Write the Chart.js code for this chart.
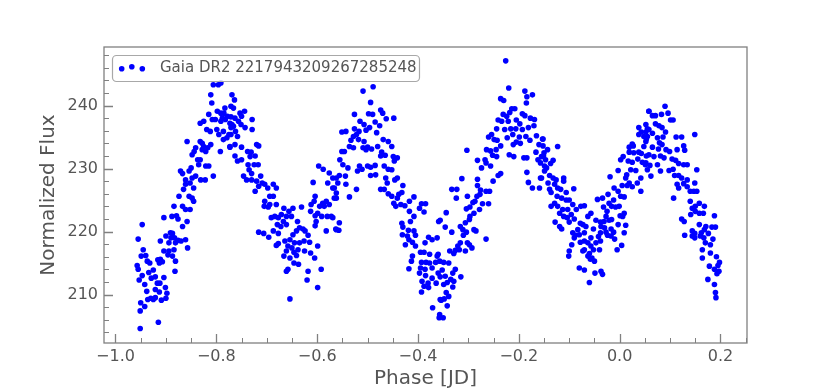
<!DOCTYPE html>
<html>
<head>
<meta charset="utf-8">
<script src="https://cdn.jsdelivr.net/npm/chart.js@4/dist/chart.umd.min.js"></script>
<style>
  html, body { margin: 0; padding: 0; background: #fff; }
  canvas { display: block; }
</style>
</head>
<body>
<canvas id="lc" width="830" height="392"></canvas>
<script>
// light curve, [phase, normalized flux]
const seriesLabel = 'Gaia DR2 2217943209267285248';

const riseA = [
  [-0.951,204.6],[-0.915,205.6],[-0.947,221.1],[-0.955,218.8],[-0.957,214.6],[-0.955,214.0],[-0.949,216.1],[-0.945,217.1],[-0.940,216.2],[-0.937,215.3],
  [-0.932,215.0],[-0.947,213.0],[-0.953,212.3],[-0.942,211.6],[-0.934,213.5],[-0.929,212.6],[-0.921,212.8],[-0.917,211.8],[-0.925,213.9],[-0.950,208.7],
  [-0.942,208.1],[-0.951,207.4],[-0.936,209.2],[-0.930,209.4],[-0.925,209.2],[-0.921,209.5],[-0.909,209.1],[-0.900,209.4],[-0.912,211.8],[-0.904,212.7],
  [-0.901,211.1],[-0.898,210.2],[-0.938,210.5],[-0.921,210.8],[-0.913,210.4],[-0.916,215.5],[-0.911,215.6],[-0.907,215.2],[-0.913,215.0],[-0.904,216.9],
  [-0.896,216.3],[-0.894,216.9],[-0.894,218.2],[-0.890,219.0],[-0.887,219.7],[-0.883,219.0],[-0.881,218.2],[-0.876,218.6],[-0.870,218.5],[-0.861,218.7],
  [-0.857,217.4],[-0.911,218.5],[-0.900,219.3],[-0.891,219.8],[-0.884,217.1],[-0.887,216.1],[-0.881,215.3],[-0.882,213.7],[-0.904,222.2],[-0.888,222.4],
  [-0.879,222.5],[-0.876,222.0],[-0.867,220.8],[-0.858,221.6],[-0.884,224.0],[-0.867,224.0],[-0.861,223.5],[-0.852,223.5],[-0.874,225.6],[-0.865,226.7],
  [-0.861,227.5],[-0.854,225.6],[-0.848,225.3],[-0.845,226.9],[-0.845,224.8],[-0.871,229.6],[-0.867,229.2],[-0.861,228.2],[-0.852,227.7],[-0.848,228.5],
  [-0.841,228.8],[-0.831,228.2],[-0.822,228.2],[-0.806,228.8],[-0.854,229.6],[-0.850,230.1],[-0.835,230.6],[-0.832,231.4],[-0.821,230.4],[-0.815,230.4],
  [-0.848,232.2],[-0.844,232.7],[-0.841,233.3],[-0.828,233.0],[-0.825,233.5],[-0.821,232.7],[-0.837,231.4],[-0.817,233.3],[-0.811,233.8],[-0.792,232.7],
  [-0.858,234.3],[-0.832,234.3],[-0.828,234.0],[-0.832,237.2],[-0.825,237.5],[-0.819,236.2],[-0.812,235.9],[-0.815,238.6],[-0.808,237.8],[-0.802,237.8],
  [-0.809,240.4],[-0.811,241.7],[-0.806,243.3],[-0.796,243.3],[-0.791,243.6],[-0.798,239.1],[-0.791,238.8],[-0.785,238.8],[-0.783,239.6],[-0.791,237.5],
  [-0.788,238.0],[-0.782,237.8],[-0.778,238.3],[-0.771,238.2],[-0.799,236.2],[-0.795,235.4],[-0.786,235.9],[-0.779,234.9],[-0.775,235.4],[-0.771,236.5],
  [-0.769,237.0],[-0.773,233.4],[-0.786,234.6]
];

const fallA = [
  [-0.769,241.7],[-0.764,240.9],[-0.771,239.9],[-0.766,239.6],[-0.753,238.8],[-0.744,239.1],[-0.750,238.3],[-0.763,238.0],[-0.729,237.8],[-0.756,237.5],
  [-0.773,237.2],[-0.751,237.0],[-0.766,236.7],[-0.743,236.5],[-0.729,236.2],[-0.762,235.9],[-0.771,235.4],[-0.758,235.1],[-0.773,233.5],[-0.763,233.8],
  [-0.750,233.4],[-0.720,233.8],[-0.716,233.6],[-0.738,232.7],[-0.731,232.6],[-0.723,232.0],[-0.763,232.0],[-0.758,231.2],[-0.750,231.4],[-0.733,231.9],
  [-0.737,230.6],[-0.725,230.6],[-0.717,230.6],[-0.735,229.8],[-0.730,229.2],[-0.746,228.8],[-0.740,228.2],[-0.730,228.2],[-0.720,228.0],[-0.712,228.8],
  [-0.709,227.7],[-0.716,227.2],[-0.704,227.5],[-0.723,226.4],[-0.698,226.9],[-0.687,227.5],[-0.681,226.9],[-0.694,225.6],[-0.687,225.6],[-0.704,224.8],
  [-0.705,224.0],[-0.697,223.9],[-0.694,224.3],[-0.681,224.3],[-0.691,222.2],[-0.684,222.4],[-0.677,222.2],[-0.666,223.7],[-0.656,223.2],[-0.648,223.7],
  [-0.631,223.9],[-0.671,222.7],[-0.661,222.4],[-0.651,222.4],[-0.679,221.1],[-0.672,220.8],[-0.667,221.6],[-0.661,221.1],[-0.677,219.7],[-0.687,220.1],
  [-0.716,219.9],[-0.706,219.7],[-0.696,219.1],[-0.639,221.6],[-0.635,220.6],[-0.641,220.1],[-0.648,219.5],[-0.628,220.4],[-0.624,220.1],[-0.618,219.4],
  [-0.654,218.7],[-0.664,218.5],[-0.677,218.1],[-0.681,217.8],[-0.645,218.2],[-0.635,218.2],[-0.626,218.5],[-0.615,218.3],[-0.658,217.7],[-0.650,217.4],
  [-0.638,217.1],[-0.625,216.9],[-0.661,216.9],[-0.646,216.7],[-0.599,217.7],[-0.613,216.6],[-0.605,215.8],[-0.666,216.1],[-0.654,215.8],[-0.641,216.2],
  [-0.637,214.8],[-0.646,215.0],[-0.658,214.0],[-0.661,213.7],[-0.618,213.7],[-0.620,212.3],[-0.592,214.0],[-0.599,211.1],[-0.654,209.3],[-0.612,224.3],
  [-0.606,224.8],[-0.613,223.2],[-0.604,222.5],[-0.599,222.9],[-0.602,221.6],[-0.604,220.9],[-0.595,224.0],[-0.589,224.5],[-0.582,224.8],[-0.586,224.0],
  [-0.576,224.3],[-0.591,222.4],[-0.580,222.4],[-0.572,222.4],[-0.582,220.1],[-0.562,220.3],[-0.608,227.8],[-0.604,225.6],[-0.597,230.4],[-0.588,229.9],
  [-0.576,229.3],[-0.579,227.7],[-0.569,226.9],[-0.562,226.1],[-0.566,225.3],[-0.562,228.5]
];

const peakB = [
  [-0.509,242.3],[-0.489,243.0],[-0.494,240.5],[-0.526,238.6],[-0.498,238.7],[-0.490,238.6],[-0.474,239.3],[-0.470,238.8],[-0.448,238.0],[-0.463,237.9],
  [-0.515,237.5],[-0.507,237.0],[-0.485,237.4],[-0.496,236.5],[-0.551,235.8],[-0.543,235.9],[-0.526,236.3],[-0.517,235.9],[-0.503,236.1],[-0.482,235.7],
  [-0.476,236.8],[-0.528,235.1],[-0.522,235.4],[-0.533,234.5],[-0.518,234.6],[-0.507,234.3],[-0.469,234.6],[-0.459,234.3],[-0.536,233.5],[-0.528,233.3],
  [-0.509,233.3],[-0.500,233.4],[-0.492,233.1],[-0.480,233.5],[-0.452,233.5],[-0.551,232.7],[-0.546,232.7],[-0.472,232.6],[-0.555,231.4],[-0.503,233.0],
  [-0.474,232.0],[-0.465,232.1],[-0.449,231.9],[-0.441,231.7],[-0.447,231.2],[-0.549,230.6],[-0.539,230.1],[-0.516,230.4],[-0.511,229.9],[-0.500,230.4],
  [-0.494,230.2],[-0.485,230.5],[-0.467,230.4],[-0.459,229.9],[-0.452,229.8],[-0.520,229.6],[-0.556,228.9],[-0.544,228.8],[-0.494,228.9],[-0.484,229.0],
  [-0.464,228.5],[-0.446,228.2],[-0.441,228.5],[-0.569,228.5],[-0.559,227.7],[-0.543,227.5],[-0.566,226.9],[-0.461,227.7],[-0.522,226.7],[-0.474,226.7],
  [-0.467,226.7],[-0.430,227.3],[-0.459,226.0],[-0.438,225.9],[-0.432,226.2],[-0.452,225.6],[-0.536,225.5],[-0.562,225.3],[-0.441,225.3],[-0.408,225.5],
  [-0.448,224.5],[-0.434,224.3],[-0.426,224.1],[-0.444,224.0],[-0.417,224.8],[-0.393,224.4],[-0.385,224.4],[-0.397,223.7],[-0.417,223.2],[-0.408,222.4],
  [-0.388,223.1],[-0.556,221.4],[-0.563,220.4],[-0.557,220.2],[-0.569,222.2],[-0.415,221.6],[-0.432,221.3],[-0.430,220.7],[-0.419,220.2],[-0.408,220.1],
  [-0.431,219.5],[-0.421,219.3],[-0.405,219.4],[-0.379,219.1],[-0.372,218.7],[-0.359,221.6],[-0.418,218.7],[-0.411,218.3],[-0.425,217.9],[-0.386,218.2],
  [-0.405,217.7],[-0.395,216.7],[-0.388,216.7],[-0.377,216.4],[-0.360,216.4],[-0.411,216.1],[-0.413,215.3],[-0.393,215.1],[-0.384,215.1],[-0.377,215.0],
  [-0.365,215.1],[-0.395,214.2],[-0.418,214.1],[-0.386,214.0],[-0.372,214.2],[-0.360,213.4],[-0.397,213.4],[-0.385,213.0],[-0.392,212.1],[-0.380,211.8],
  [-0.372,212.6],[-0.364,211.8],[-0.356,212.8],[-0.388,211.3],[-0.379,211.1],[-0.393,210.4],[-0.356,209.2],[-0.371,207.9],[-0.358,206.3]
];

const riseC = [
  [-0.226,247.1],[-0.220,242.8],[-0.236,241.1],[-0.230,240.8],[-0.188,242.3],[-0.173,241.7],[-0.184,241.4],[-0.185,240.4],[-0.214,239.5],[-0.208,239.5],
  [-0.218,238.9],[-0.231,238.6],[-0.224,238.3],[-0.193,238.7],[-0.188,238.4],[-0.241,237.7],[-0.234,237.5],[-0.221,237.5],[-0.205,237.7],[-0.177,238.0],
  [-0.169,237.8],[-0.198,237.1],[-0.244,236.3],[-0.228,236.2],[-0.216,236.3],[-0.206,236.3],[-0.193,236.2],[-0.181,236.5],[-0.170,236.8],[-0.254,235.4],
  [-0.260,235.0],[-0.212,235.4],[-0.199,235.0],[-0.186,235.1],[-0.165,235.2],[-0.153,234.7],[-0.249,234.6],[-0.243,234.5],[-0.223,234.9],[-0.205,234.2],
  [-0.197,234.0],[-0.178,234.5],[-0.160,233.8],[-0.264,233.0],[-0.256,232.8],[-0.245,233.0],[-0.236,233.6],[-0.211,233.8],[-0.303,232.9],[-0.252,232.1],
  [-0.244,231.9],[-0.219,232.2],[-0.210,231.9],[-0.190,231.7],[-0.184,231.7],[-0.166,232.6],[-0.162,231.4],[-0.151,232.0],[-0.282,231.3],[-0.265,230.9],
  [-0.256,230.4],[-0.274,230.1],[-0.149,230.4],[-0.157,230.9],[-0.236,229.2],[-0.241,228.9],[-0.184,229.4],[-0.157,228.5],[-0.313,228.4],[-0.282,228.3],
  [-0.251,228.0],[-0.181,227.8],[-0.173,226.9],[-0.159,226.9],[-0.282,227.3],[-0.276,226.6],[-0.333,226.7],[-0.323,226.7],[-0.265,226.4],[-0.258,226.4],
  [-0.277,225.9],[-0.283,225.6],[-0.302,225.6],[-0.324,225.3],[-0.287,224.8],[-0.291,224.6],[-0.272,224.4],[-0.260,224.4],[-0.297,223.9],[-0.304,223.6],
  [-0.344,223.0],[-0.278,223.5],[-0.289,222.9],[-0.297,222.4],[-0.356,221.8],[-0.298,221.9],[-0.306,221.4],[-0.346,220.7],[-0.316,220.8],[-0.311,220.3],
  [-0.289,220.3],[-0.285,220.1],[-0.333,219.9],[-0.304,219.9],[-0.310,219.4],[-0.362,219.0],[-0.265,218.8],[-0.316,218.2],[-0.302,218.2],[-0.298,217.9],
  [-0.321,217.7],[-0.293,217.4],[-0.326,217.0],[-0.337,216.9],[-0.318,217.1],[-0.329,216.5],[-0.306,216.9],[-0.362,216.1],[-0.357,215.3],[-0.349,215.1],
  [-0.339,215.0],[-0.352,213.9],[-0.326,214.0],[-0.331,213.4],[-0.346,212.9],[-0.315,212.8],[-0.335,212.4],[-0.329,212.1],[-0.342,211.9],[-0.349,211.6],
  [-0.331,211.2],[-0.344,210.3],[-0.339,209.7],[-0.348,209.3],[-0.354,209.1],[-0.342,208.2],[-0.357,206.8],[-0.350,206.3],[-0.267,231.4]
];

const dipD = [
  [-0.152,234.7],[-0.152,233.6],[-0.143,233.0],[-0.123,233.5],[-0.150,232.5],[-0.155,231.9],[-0.147,231.4],[-0.132,231.3],[-0.137,230.8],[-0.145,230.1],
  [-0.149,229.6],[-0.155,228.5],[-0.139,228.9],[-0.132,228.5],[-0.142,227.7],[-0.126,228.2],[-0.111,228.5],[-0.111,228.0],[-0.129,227.5],[-0.139,226.7],
  [-0.136,226.2],[-0.123,226.9],[-0.117,226.7],[-0.091,226.8],[-0.106,226.2],[-0.124,225.6],[-0.115,225.3],[-0.106,225.0],[-0.100,225.0],[-0.129,224.5],
  [-0.136,224.0],[-0.123,224.0],[-0.093,224.3],[-0.077,224.0],[-0.070,224.1],[-0.113,223.5],[-0.103,223.5],[-0.086,223.5],[-0.119,222.9],[-0.096,222.7],
  [-0.057,222.9],[-0.063,222.4],[-0.111,222.4],[-0.104,222.2],[-0.090,222.0],[-0.044,225.1],[-0.034,225.3],[-0.128,221.5],[-0.119,220.8],[-0.115,220.4],
  [-0.100,221.5],[-0.078,221.3],[-0.073,221.1],[-0.067,220.8],[-0.047,221.8],[-0.038,221.5],[-0.031,221.6],[-0.027,222.4],[-0.021,221.8],[-0.016,221.9],
  [-0.083,220.3],[-0.052,220.4],[-0.037,220.8],[-0.030,220.6],[-0.017,220.4],[-0.093,219.8],[-0.088,219.4],[-0.070,219.8],[-0.038,219.8],[-0.027,219.9],
  [-0.024,219.4],[-0.012,219.9],[-0.003,221.1],[0.012,221.0],[0.009,219.8],[-0.090,219.0],[-0.057,219.0],[-0.042,219.2],[-0.017,219.3],[-0.070,218.5],
  [-0.063,218.2],[-0.047,218.2],[-0.038,218.5],[-0.010,218.8],[-0.095,217.9],[-0.078,218.3],[-0.057,217.7],[0.004,217.8],[-0.052,217.1],[-0.073,216.9],
  [-0.100,216.9],[-0.005,217.1],[-0.060,216.5],[-0.040,217.1],[-0.101,216.1],[-0.063,216.1],[-0.055,215.8],[-0.050,215.3],[-0.058,215.6],[-0.080,214.2],
  [-0.070,213.9],[-0.049,213.4],[-0.037,213.7],[-0.034,213.2],[-0.060,211.9],[0.009,222.9],[0.001,222.5],[-0.021,224.5],[-0.016,224.0],[-0.008,223.9],
  [-0.001,224.0],[0.006,222.4],[-0.012,225.0],[-0.023,225.9],[-0.011,226.9],[-0.003,226.4],[0.002,225.6],[0.009,225.5],[0.005,227.3],[0.015,227.3],
  [-0.019,228.7],[-0.003,229.7],[0.012,228.5],[0.019,227.7],[0.025,227.1],[0.035,227.7],[0.042,226.4],[0.014,229.0],[0.022,229.8],[0.032,229.7],
  [0.042,228.5],[0.002,231.4],[0.007,231.9],[0.017,231.2],[0.025,231.0],[0.036,231.5],[0.045,231.0],[0.051,230.6],[0.019,232.6],[0.028,232.5],
  [0.038,232.6],[0.043,232.4],[0.053,232.0],[0.019,233.4],[0.027,233.6],[0.025,233.9],[0.048,233.5],[0.038,235.4],[0.043,235.8],[0.048,235.1],
  [0.053,234.7],[0.038,236.5],[0.058,239.1],[0.055,236.3],[-0.025,223.2],[-0.032,223.9],[-0.070,217.1],[-0.080,219.5]
];

const tailE = [
  [0.090,239.9],[0.058,239.1],[0.065,238.4],[0.071,238.4],[0.083,238.6],[0.096,238.8],[0.101,237.7],[0.106,237.7],[0.052,237.0],[0.071,237.1],
  [0.078,236.8],[0.084,236.5],[0.091,235.8],[0.058,236.2],[0.065,235.6],[0.055,235.1],[0.075,234.9],[0.086,235.0],[0.112,235.0],[0.123,235.0],
  [0.149,235.4],[0.052,234.3],[0.065,233.4],[0.079,234.1],[0.084,233.8],[0.077,233.1],[0.092,233.0],[0.099,232.7],[0.127,233.6],[0.129,232.9],
  [0.114,233.0],[0.058,232.2],[0.068,231.9],[0.081,232.0],[0.088,231.7],[0.104,231.5],[0.111,231.3],[0.117,230.8],[0.127,230.6],[0.134,230.6],
  [0.052,230.9],[0.060,230.5],[0.075,230.6],[0.055,229.8],[0.062,228.8],[0.081,229.6],[0.098,229.7],[0.106,229.9],[0.153,229.8],[0.109,228.9],
  [0.117,228.9],[0.123,228.5],[0.134,228.2],[0.114,227.5],[0.127,227.6],[0.149,227.7],[0.117,226.9],[0.134,227.1],[0.140,226.4],[0.147,226.4],
  [0.153,226.4],[0.107,225.3],[0.140,224.8],[0.158,224.5],[0.168,224.0],[0.150,224.0],[0.144,223.7],[0.150,223.2],[0.141,222.7],[0.158,222.9],
  [0.166,222.9],[0.188,222.5],[0.123,222.0],[0.128,221.6],[0.158,221.1],[0.171,220.8],[0.168,220.3],[0.183,220.7],[0.190,220.7],[0.162,219.8],
  [0.176,219.7],[0.144,220.1],[0.149,219.7],[0.129,219.4],[0.144,219.3],[0.149,219.0],[0.160,219.3],[0.167,219.0],[0.185,218.8],[0.170,218.2],
  [0.180,217.9],[0.164,217.1],[0.180,216.6],[0.164,215.8],[0.192,216.0],[0.198,215.1],[0.195,214.6],[0.178,214.5],[0.188,214.0],[0.197,213.7],
  [0.193,213.3],[0.175,212.4],[0.188,211.6],[0.190,210.3],[0.191,209.5],[0.052,235.8]
];

const xTicks = [-1.0, -0.8, -0.6, -0.4, -0.2, 0.0, 0.2];
const xMinorTicks = [-1.0, -0.95, -0.9, -0.85, -0.8, -0.75, -0.7, -0.65, -0.6, -0.55, -0.5, -0.45, -0.4,
  -0.35, -0.3, -0.25, -0.2, -0.15, -0.1, -0.05, 0.0, 0.05, 0.1, 0.15, 0.2, 0.25];
const yTicks = [210, 220, 230, 240];
const yMinorTicks = [204, 206, 208, 210, 212, 214, 216, 218, 220, 222, 224, 226, 228, 230, 232, 234, 236,
  238, 240, 242, 244, 246, 248];

const xRange = [-1.0228, 0.2526];
const yRange = [202.3, 249.3];

const FONT = '"DejaVu Sans", "Liberation Sans", sans-serif';
const TEXT = '#555555';
const SPINE = '#808080';
const DOT = '#0000ff';

const points = [...riseA, ...fallA, ...peakB, ...riseC, ...dipD, ...tailE].map(([x, y]) => ({ x, y }));

function fmtX(v) {
  const s = Math.abs(v).toFixed(1);
  return (v < -1e-9 ? '\u2212' : '') + s;
}

// spines and inward ticks, drawn over the dots like matplotlib does
const frame = {
  id: 'frame',
  afterDatasetsDraw(chart) {
    const { ctx, chartArea: a, scales: { x, y } } = chart;
    ctx.save();
    ctx.strokeStyle = SPINE;
    ctx.lineWidth = 1;
    ctx.beginPath();
    xMinorTicks.forEach(v => {
      if (xTicks.some(t => Math.abs(t - v) < 1e-6)) return;
      const px = Math.round(x.getPixelForValue(v)) + 0.5;
      ctx.moveTo(px, a.bottom); ctx.lineTo(px, a.bottom - 5);
    });
    yMinorTicks.forEach(v => {
      if (yTicks.includes(v)) return;
      const py = Math.round(y.getPixelForValue(v)) + 0.5;
      ctx.moveTo(a.left, py); ctx.lineTo(a.left + 5, py);
    });
    ctx.stroke();
    ctx.lineWidth = 1.3;
    ctx.beginPath();
    xTicks.forEach(v => {
      const px = Math.round(x.getPixelForValue(v)) + 0.5;
      ctx.moveTo(px, a.bottom); ctx.lineTo(px, a.bottom - 9);
    });
    yTicks.forEach(v => {
      const py = Math.round(y.getPixelForValue(v)) + 0.5;
      ctx.moveTo(a.left, py); ctx.lineTo(a.left + 9, py);
    });
    ctx.stroke();
    ctx.lineWidth = 1.3;
    ctx.strokeRect(a.left, a.top, a.right - a.left, a.bottom - a.top);
    ctx.restore();
  }
};

const legendBox = {
  id: 'legendBox',
  afterDraw(chart) {
    const { ctx } = chart;
    const bx = 112.5, by = 55.5, bw = 307, bh = 26, r = 4;
    ctx.save();
    ctx.beginPath();
    ctx.roundRect(bx, by, bw, bh, r);
    ctx.fillStyle = 'rgba(255,255,255,0.8)';
    ctx.fill();
    ctx.strokeStyle = '#a8a8a8';
    ctx.lineWidth = 1.2;
    ctx.stroke();
    ctx.fillStyle = DOT;
    [[121.7, 68.7], [131.8, 66.8], [142.3, 68.7]].forEach(([dx, dy]) => {
      ctx.beginPath();
      ctx.arc(dx, dy, 2.8, 0, Math.PI * 2);
      ctx.fill();
    });
    ctx.fillStyle = TEXT;
    ctx.font = '15px ' + FONT;
    ctx.textBaseline = 'middle';
    ctx.textAlign = 'left';
    ctx.fillText(seriesLabel, 160, 68);
    ctx.restore();
  }
};

new Chart(document.getElementById('lc'), {
  type: 'scatter',
  data: {
    datasets: [{
      label: seriesLabel,
      data: points,
      backgroundColor: DOT,
      borderWidth: 0,
      pointRadius: 2.8,
      pointHoverRadius: 2.8
    }]
  },
  options: {
    responsive: false,
    animation: false,
    events: [],
    layout: { padding: { top: 47, right: 83, left: 0, bottom: 0 } },
    plugins: { legend: { display: false }, tooltip: { enabled: false } },
    scales: {
      x: {
        type: 'linear',
        min: xRange[0],
        max: xRange[1],
        grid: { display: false, drawTicks: false },
        border: { display: false },
        afterBuildTicks: s => { s.ticks = xTicks.map(v => ({ value: v })); },
        afterFit: s => { s.height = 49; },
        ticks: {
          color: TEXT, font: { family: FONT, size: 16 }, padding: 4,
          autoSkip: false, maxRotation: 0, callback: v => fmtX(v)
        },
        title: {
          display: true, text: 'Phase [JD]', color: TEXT,
          font: { family: FONT, size: 20, lineHeight: 1.2 }, padding: { top: 0, bottom: 1 }
        }
      },
      y: {
        type: 'linear',
        min: yRange[0],
        max: yRange[1],
        grid: { display: false, drawTicks: false },
        border: { display: false },
        afterBuildTicks: s => { s.ticks = yTicks.map(v => ({ value: v })); },
        afterFit: s => { s.width = 104; },
        ticks: {
          color: TEXT, font: { family: FONT, size: 16 }, padding: 6,
          autoSkip: false, callback: v => String(Math.round(v))
        },
        title: {
          display: true, text: 'Normalized Flux', color: TEXT,
          font: { family: FONT, size: 20, lineHeight: 1.2 }, padding: { top: 37, bottom: 0 }
        }
      }
    }
  },
  plugins: [frame, legendBox]
});
</script>
</body>
</html>
